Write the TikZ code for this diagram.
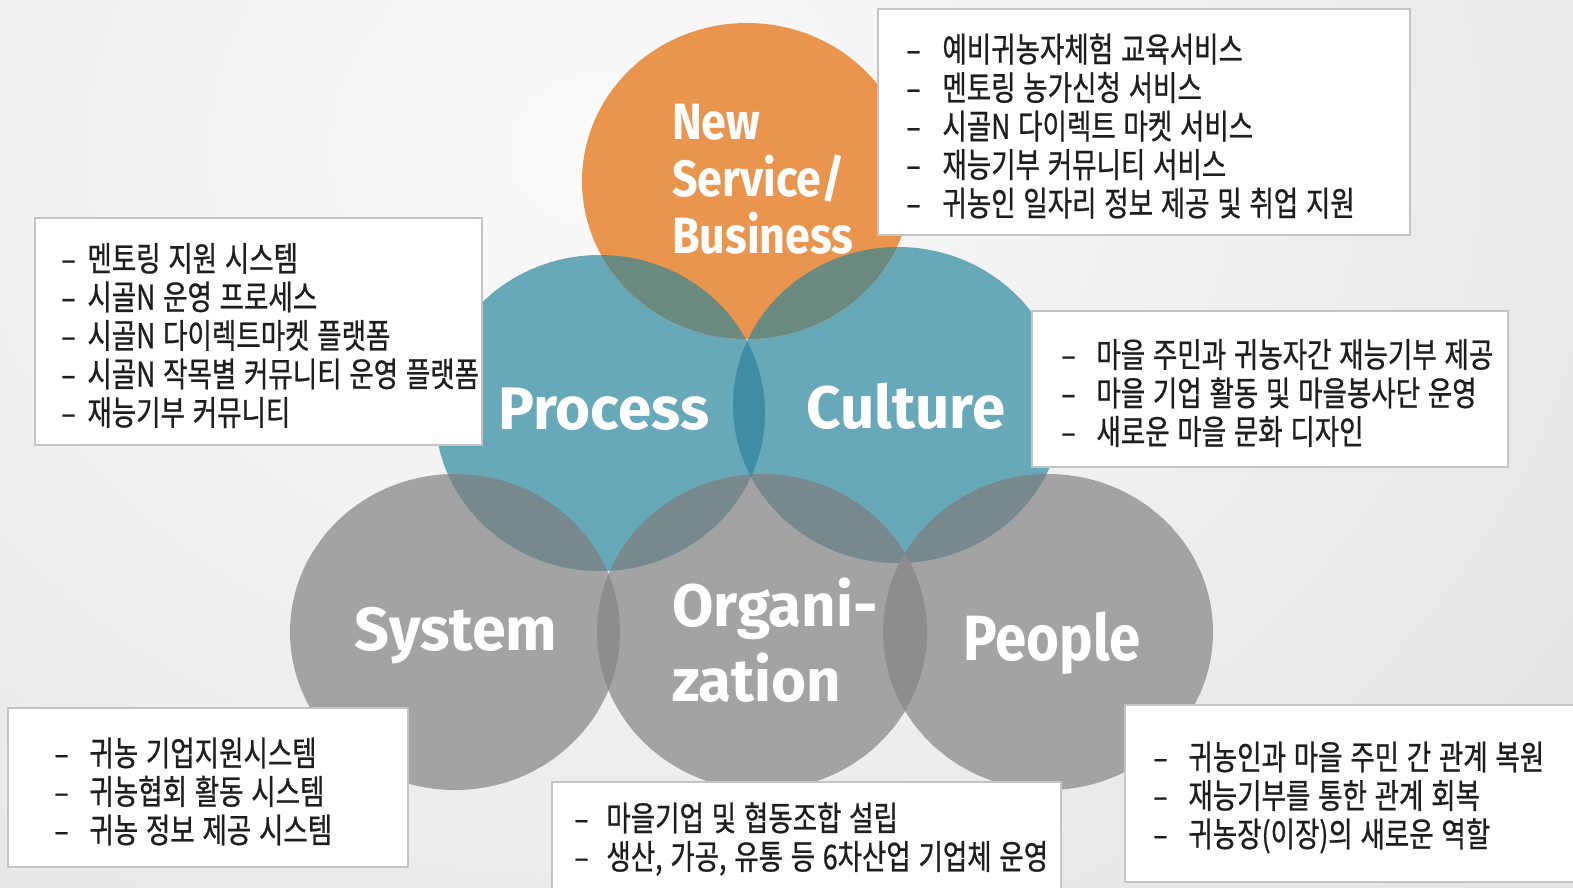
\documentclass[tikz,border=0pt]{standalone}
\usepackage{fontspec}
\usetikzlibrary{positioning}
\newfontfamily\krfont[FakeStretch=0.78,WordSpace=1.3,FakeBold=0.7]{Noto Sans CJK KR}
\newfontfamily\lblfont{Fira Sans}
\newfontfamily\lblnarrow[FakeStretch=0.88]{Fira Sans}

\definecolor{bgin}{HTML}{FAFAFA}
\definecolor{bgout}{HTML}{D9D9D9}
\definecolor{bizorange}{HTML}{E9954D}
\definecolor{procteal}{HTML}{67A8B9}
\definecolor{orggray}{HTML}{A3A3A3}
\definecolor{lensot}{HTML}{6A8A80}
\definecolor{lenstt}{HTML}{3F8DA4}
\definecolor{lenstg}{HTML}{78898E}
\definecolor{lensgg}{HTML}{8D8D8D}
\definecolor{lensttg}{HTML}{4E7D8A}
\definecolor{boxline}{HTML}{C4C4C4}
\definecolor{boxtext}{HTML}{1E1E1E}

\newcommand{\bitem}[1][36]{\makebox[#1pt][l]{–}}

\begin{document}
\begin{tikzpicture}[
    x = 1pt, y = -1pt, % one unit is one pixel of the slide
    vennr/.style = {x radius=165, y radius=158}, % size of each circle
  ]

  \tikzstyle{lbl}=[text=white, inner sep=0pt, align=left,
    font=\lblfont\bfseries\fontsize{62}{75}\selectfont]
  \tikzstyle{infobox}=[rectangle, draw=boxline, line width=1.5pt, fill=white]
  \tikzstyle{boxtxt}=[inner sep=0pt, align=left, text=boxtext, yshift=-4pt,
    font=\krfont\fontsize{34}{38.5}\selectfont]

  % background
  \useasboundingbox (0,0) rectangle (1573,887);
  \begin{scope}
    \clip (0,0) rectangle (1573,887);
    \shade[inner color=bgin, outer color=bgout] (-1400,-1500) rectangle (2600,1800);
  \end{scope}

  % circles
  \coordinate (sys) at (455,632);
  \coordinate (org) at (762,632);
  \coordinate (peop) at (1048,632);
  \coordinate (proc) at (600,413);
  \coordinate (cult) at (898,405);
  \coordinate (nsb) at (747,181);

  \fill[orggray] (sys) ellipse[vennr] (org) ellipse[vennr] (peop) ellipse[vennr];
  \fill[procteal] (proc) ellipse[vennr] (cult) ellipse[vennr];
  \fill[bizorange] (nsb) ellipse[vennr];

  % overlaps
  \begin{scope}\clip (nsb) ellipse[vennr]; \fill[lensot] (proc) ellipse[vennr] (cult) ellipse[vennr];\end{scope}
  \begin{scope}\clip (proc) ellipse[vennr]; \fill[lenstt] (cult) ellipse[vennr];\end{scope}
  \begin{scope}\clip (proc) ellipse[vennr]; \fill[lenstg] (sys) ellipse[vennr] (org) ellipse[vennr];\end{scope}
  \begin{scope}\clip (cult) ellipse[vennr]; \fill[lenstg] (org) ellipse[vennr] (peop) ellipse[vennr];\end{scope}
  \begin{scope}\clip (org) ellipse[vennr]; \fill[lensgg] (sys) ellipse[vennr] (peop) ellipse[vennr];\end{scope}
  \begin{scope}\clip (proc) ellipse[vennr]; \clip (cult) ellipse[vennr]; \fill[lensttg] (org) ellipse[vennr];\end{scope}

  % circle labels
  \node[lbl, anchor=west, font=\lblnarrow\bfseries\fontsize{51}{57}\selectfont] (nsbl) at (672,179) {New\\Service/\\Business};
  \node[lbl, font=\lblfont\bfseries\fontsize{60}{60}\selectfont] (procl) at (604,409) {Process};
  \node[lbl, font=\lblfont\bfseries\fontsize{60}{60}\selectfont] (cultl) at (906,406) {Culture};
  \node[lbl, font=\lblfont\bfseries\fontsize{61}{75}\selectfont] (sysl) at (456,636) {System};
  \node[lbl, anchor=west, font=\lblfont\bfseries\fontsize{60}{75}\selectfont] (orgl) at (672,640) {Organi-\\zation};
  \node[lbl, font=\lblnarrow\bfseries\fontsize{64}{75}\selectfont] (peopl) at (1052,643) {People};

  % text boxes
  \node[infobox, minimum width=532, minimum height=226] (nsbbox) at (1144,122) {};
  \node[boxtxt, right=29pt of nsbbox.west] (nsbtxt) {%
    \bitem 예비귀농자체험 교육서비스\\
    \bitem 멘토링 농가신청 서비스\\
    \bitem 시골N 다이렉트 마켓 서비스\\
    \bitem 재능기부 커뮤니티 서비스\\
    \bitem 귀농인 일자리 정보 제공 및 취업 지원};

  \node[infobox, minimum width=447, minimum height=227] (procbox) at (258.5,331.5) {};
  \node[boxtxt, right=27pt of procbox.west] (proctxt) {%
    \bitem[26]멘토링 지원 시스템\\
    \bitem[26]시골N 운영 프로세스\\
    \bitem[26]시골N 다이렉트마켓 플랫폼\\
    \bitem[26]시골N 작목별 커뮤니티 운영 플랫폼\\
    \bitem[26]재능기부 커뮤니티};

  \node[infobox, minimum width=476, minimum height=156] (cultbox) at (1270,389) {};
  \node[boxtxt, right=30pt of cultbox.west] (culttxt) {%
    \bitem[35]마을 주민과 귀농자간 재능기부 제공\\
    \bitem[35]마을 기업 활동 및 마을봉사단 운영\\
    \bitem[35]새로운 마을 문화 디자인};

  \node[infobox, minimum width=400, minimum height=159] (sysbox) at (208,787.5) {};
  \node[boxtxt, right=47pt of sysbox.west] (systxt) {%
    \bitem[35]귀농 기업지원시스템\\
    \bitem[35]귀농협회 활동 시스템\\
    \bitem[35]귀농 정보 제공 시스템};

  \node[infobox, minimum width=509, minimum height=120] (orgbox) at (806.5,842) {};
  \node[boxtxt, right=23pt of orgbox.west, yshift=7pt] (orgtxt) {%
    \bitem[32]마을기업 및 협동조합 설립\\
    \bitem[32]생산, 가공, 유통 등 6차산업 기업체 운영};

  \node[infobox, minimum width=450, minimum height=177] (peopbox) at (1350,793.5) {};
  \node[boxtxt, right=29pt of peopbox.west] (peoptxt) {%
    \bitem[35]귀농인과 마을 주민 간 관계 복원\\
    \bitem[35]재능기부를 통한 관계 회복\\
    \bitem[35]귀농장(이장)의 새로운 역할};

\end{tikzpicture}
\end{document}
